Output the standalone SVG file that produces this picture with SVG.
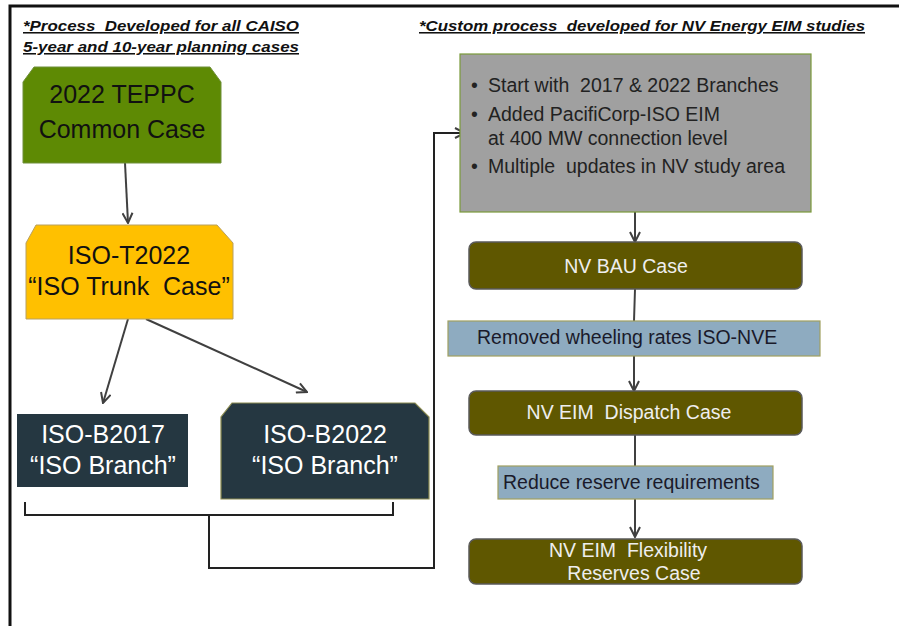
<svg xmlns="http://www.w3.org/2000/svg" width="899" height="626" viewBox="0 0 899 626" xml:space="preserve">
<defs>
<marker id="v" viewBox="0 0 12 12" refX="11" refY="6" markerWidth="12" markerHeight="12" markerUnits="userSpaceOnUse" orient="auto">
<path d="M1,1 L11,6 L1,11" fill="none" stroke="#404040" stroke-width="2"/>
</marker>
<style>
text{white-space:pre}
.hdr{font-family:"Liberation Sans",Arial,sans-serif;font-weight:bold;font-style:italic;font-size:15.5px;fill:#111;text-decoration:underline}
.big{font-family:"Liberation Sans",Arial,sans-serif;font-size:25px;text-anchor:middle}
.mid{font-family:"Liberation Sans",Arial,sans-serif;font-size:19.5px}
.c{stroke:#404040;stroke-width:2;fill:none}
.olive{fill:#5f5700;stroke:#5a5a5a;stroke-width:1.5}
.blue{fill:#8eabc0;stroke:#a0a060;stroke-width:1.2}
</style>
</defs>
<rect x="0" y="0" width="899" height="626" fill="#fff"/>
<path d="M10,626 V6 H899" fill="none" stroke="#111" stroke-width="3"/>
<g id="headers">
<text class="hdr" x="23" y="31" textLength="276" lengthAdjust="spacingAndGlyphs">*Process  Developed for all CAISO</text>
<text class="hdr" x="23" y="52" textLength="276" lengthAdjust="spacingAndGlyphs">5-year and 10-year planning cases</text>
<text class="hdr" x="419" y="31" textLength="446" lengthAdjust="spacingAndGlyphs">*Custom process  developed for NV Energy EIM studies</text>
</g>
<g id="connectors">
<line class="c" x1="125" y1="163" x2="128" y2="223" marker-end="url(#v)"/>
<line class="c" x1="128" y1="319" x2="103" y2="403" marker-end="url(#v)"/>
<line class="c" x1="146" y1="319" x2="307" y2="392" marker-end="url(#v)"/>
<path d="M25,502 V515 H393 V502 M209,515 V568 H434 V133 H465" stroke="#222" stroke-width="2" fill="none" marker-end="url(#v)"/>
<line class="c" x1="635" y1="212" x2="635" y2="242" marker-end="url(#v)"/>
<line class="c" x1="635" y1="289" x2="634" y2="321"/>
<line class="c" x1="634" y1="356" x2="634" y2="391" marker-end="url(#v)"/>
<line class="c" x1="635" y1="435" x2="635" y2="466"/>
<line class="c" x1="635" y1="499" x2="635" y2="537" marker-end="url(#v)"/>
</g>
<g id="teppc">
<path d="M34,67 H210 L221,82 V163 H23 V82 Z" fill="#5e8a04" stroke="#6f8f3a" stroke-width="1"/>
<text class="big" x="122" y="103" fill="#111">2022 TEPPC</text>
<text class="big" x="122" y="138" fill="#111">Common Case</text>
</g>
<g id="trunk">
<path d="M36,225 H217 L233,243 V319 H26 V243 Z" fill="#ffc000" stroke="#b8a060" stroke-width="1"/>
<text class="big" x="129" y="264" fill="#111">ISO-T2022</text>
<text class="big" x="129" y="295" fill="#111">“ISO Trunk  Case”</text>
</g>
<g id="b2017">
<rect x="17" y="414" width="171" height="73" fill="#253741"/>
<text class="big" x="103" y="443" fill="#fff">ISO-B2017</text>
<text class="big" x="103" y="474" fill="#fff">“ISO Branch”</text>
</g>
<g id="b2022">
<path d="M232,403 H415 L429,417 V499 H221 V417 Z" fill="#253741" stroke="#8a8a50" stroke-width="1.2"/>
<text class="big" x="325" y="443" fill="#fff">ISO-B2022</text>
<text class="big" x="325" y="474" fill="#fff">“ISO Branch”</text>
</g>
<g id="start">
<rect x="460" y="54" width="351" height="158" fill="#a0a0a0" stroke="#7a9a3a" stroke-width="1.2"/>
<g class="mid" fill="#222">
<text x="471" y="92">•</text><text x="488" y="92">Start with  2017 &amp; 2022 Branches</text>
<text x="471" y="121">•</text><text x="488" y="121">Added PacifiCorp-ISO EIM</text>
<text x="488" y="145">at 400 MW connection level</text>
<text x="471" y="173">•</text><text x="488" y="173">Multiple  updates in NV study area</text>
</g>
</g>
<g id="bau">
<rect class="olive" x="469" y="242" width="333" height="47" rx="7"/>
<text class="mid" x="626" y="273" fill="#eee" text-anchor="middle">NV BAU Case</text>
</g>
<g id="wheeling">
<rect class="blue" x="448" y="321" width="372" height="35"/>
<text class="mid" x="477" y="344" fill="#1a1a2a">Removed wheeling rates ISO-NVE</text>
</g>
<g id="dispatch">
<rect class="olive" x="469" y="391" width="333" height="44" rx="7"/>
<text class="mid" x="629" y="419" fill="#eee" text-anchor="middle">NV EIM  Dispatch Case</text>
</g>
<g id="reduce">
<rect class="blue" x="498" y="466" width="275" height="33"/>
<text class="mid" x="503" y="489" fill="#1a1a2a">Reduce reserve requirements</text>
</g>
<g id="flex">
<rect class="olive" x="469" y="539" width="333" height="45" rx="7"/>
<text class="mid" x="628" y="557" fill="#eee" text-anchor="middle">NV EIM  Flexibility</text>
<text class="mid" x="634" y="580" fill="#eee" text-anchor="middle">Reserves Case</text>
</g>
</svg>
